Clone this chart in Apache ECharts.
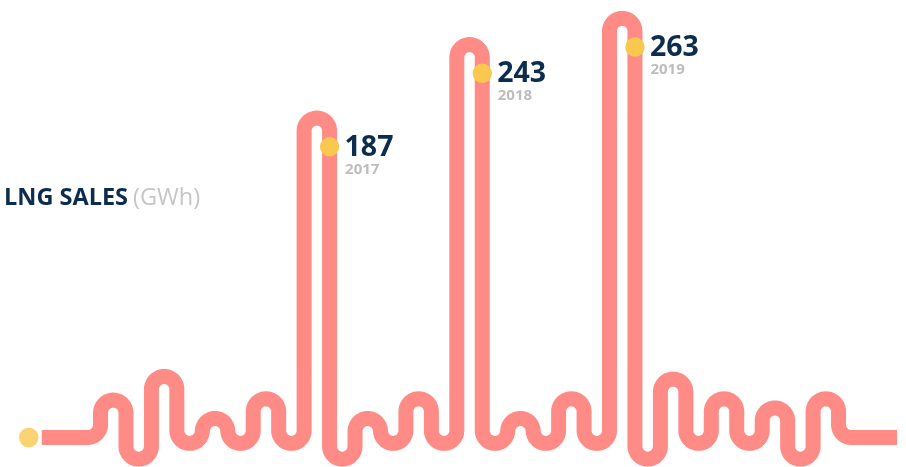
<!DOCTYPE html>
<html>
<head>
<meta charset="utf-8">
<script src="https://cdn.jsdelivr.net/npm/echarts@6/dist/echarts.min.js"></script>
<style>
  html, body { margin: 0; padding: 0; background: #ffffff; }
  #chart { width: 906px; height: 467px; }
</style>
</head>
<body>
<div id="chart"></div>
<script>
// ---- Data ----
const years = ['2017', '2018', '2019'];
const sales = [187, 243, 263];            // GWh, peak loops
const peakLoops = [4, 7, 10];             // which loop carries each year's value
// height of each top loop (decorative loops + the three sales peaks)
const loopTops = [-28, -10, -42, -27, 187, -42, -27, 243, -42, -27, 263, -12, -27, -34, -27];
// depth of each bottom loop
const loopBottoms = [-73, -61, -61, -61, -73, -61, -61, -61, -61, -61, -73, -61, -61, -73];
const baseLevel = -56.5;                  // level of the flat lead-in / lead-out line
const lineStart = -2.31, lineEnd = 31.30; // column index where the flat lines end
const endDots = [[-2.82, baseLevel], [31.69, baseLevel]];

const LINE = '#FF8B86', DOT = '#FAC84F', NAVY = '#0C2D4E', GREY = '#BDBDBD';
const FONT = '"Open Sans", "Noto Sans", sans-serif';

function arcPts(pts, cx, cy, r, a0, a1) {
  const n = 24;
  for (let i = 0; i <= n; i++) {
    const a = a0 + (a1 - a0) * i / n;
    pts.push([cx + r * Math.cos(a), cy + r * Math.sin(a)]);
  }
}

function renderMeander(params, api) {
  if (params.dataIndex !== 0) return;
  const X = k => api.coord([k, 0])[0];
  const Y = v => api.coord([0, v])[1];
  const r = (X(1) - X(0)) / 2;
  const hy = Y(baseLevel);
  const pts = [[X(lineStart), hy]];
  arcPts(pts, X(0) - r, hy - r, r, Math.PI / 2, 0);
  for (let j = 0; j < loopTops.length; j++) {
    const xl = X(2 * j), xr = X(2 * j + 1);
    arcPts(pts, (xl + xr) / 2, Y(loopTops[j]) + r, r, Math.PI, 2 * Math.PI);
    if (j < loopBottoms.length) {
      const bl = X(2 * j + 1), br = X(2 * j + 2);
      arcPts(pts, (bl + br) / 2, Y(loopBottoms[j]) - r, r, Math.PI, 0);
    }
  }
  const last = X(2 * loopTops.length - 1);
  arcPts(pts, last + r, hy - r, r, Math.PI, Math.PI / 2);
  pts.push([X(lineEnd), hy]);
  return {
    type: 'polyline',
    shape: { points: pts },
    style: { stroke: LINE, lineWidth: 15, fill: null, lineJoin: 'round', lineCap: 'butt' },
    silent: true
  };
}

function renderLabel(params, api) {
  const col = api.value(0), v = api.value(1);
  const p = api.coord([col, v]);
  const dx = p[0], dy = p[1] + 28.7;
  return {
    type: 'group',
    children: [
      { type: 'circle', shape: { cx: dx, cy: dy, r: 9.7 }, style: { fill: DOT } },
      { type: 'text', style: { text: String(v), x: dx + 15, y: dy + 1, verticalAlign: 'middle',
          font: 'bold 28.5px ' + FONT, fill: NAVY } },
      { type: 'text', style: { text: years[params.dataIndex], x: dx + 15.5, y: dy + 15, verticalAlign: 'top',
          font: 'bold 15px ' + FONT, fill: GREY } }
    ]
  };
}

const chart = echarts.init(document.getElementById('chart'), null, { renderer: 'canvas' });
chart.setOption({
  animation: false,
  backgroundColor: '#ffffff',
  title: {
    text: '{a|LNG SALES} {b|(GWh)}',
    left: -1, top: 181,
    textStyle: {
      rich: {
        a: { fontFamily: FONT, fontWeight: 'bold', fontSize: 23.5, color: NAVY },
        b: { fontFamily: FONT, fontWeight: 'normal', fontSize: 23.5, color: '#C6C6C6' }
      }
    }
  },
  grid: { left: 0, right: 0, top: 0, bottom: 0 },
  xAxis: { type: 'value', min: -3.95, max: 31.65, show: false },
  yAxis: { type: 'value', min: -79, max: 277, show: false },
  series: [
    { type: 'custom', renderItem: renderMeander, data: [[0, 0]], clip: false, silent: true },
    { type: 'scatter', data: endDots, symbolSize: 19.5, itemStyle: { color: DOT }, silent: true },
    { type: 'custom', renderItem: renderLabel, clip: false, silent: true,
      data: sales.map((v, i) => [2 * peakLoops[i] + 1, v]) }
  ]
});
</script>
</body>
</html>
